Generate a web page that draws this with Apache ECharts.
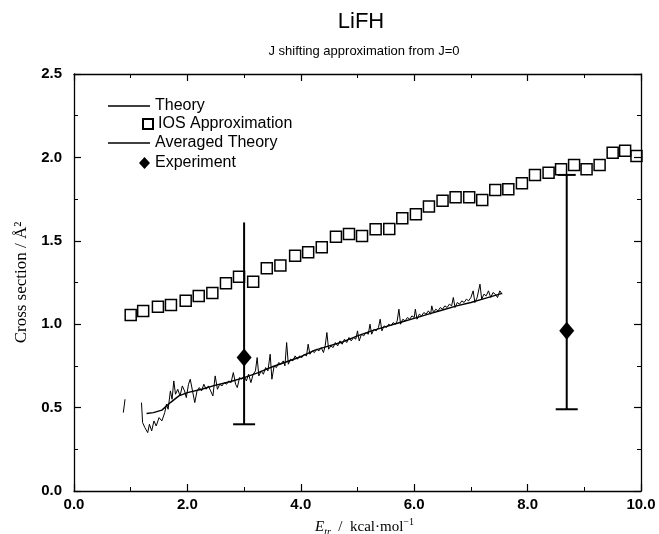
<!DOCTYPE html>
<html>
<head>
<meta charset="utf-8">
<script src="https://cdn.jsdelivr.net/npm/echarts@6/dist/echarts.min.js"></script>
<style>html,body{margin:0;padding:0;background:#fff}#c{width:659px;height:534px}</style>
</head>
<body>
<div id="c"></div>
<script>
// ---- data ----
const xTicks = [0, 2, 4, 6, 8, 10];
const yTicks = [0, 0.5, 1.0, 1.5, 2.0, 2.5];

const iosX = [1.00,1.22,1.48,1.71,1.97,2.20,2.44,2.68,2.91,3.16,3.40,3.64,3.90,4.13,4.37,4.62,4.85,5.08,5.32,5.56,5.79,6.03,6.26,6.50,6.73,6.97,7.20,7.43,7.66,7.90,8.13,8.37,8.59,8.82,9.04,9.27,9.50,9.72,9.92];
const iosY = [1.055,1.079,1.105,1.115,1.141,1.169,1.187,1.245,1.285,1.255,1.335,1.352,1.411,1.431,1.461,1.525,1.541,1.529,1.569,1.571,1.635,1.659,1.705,1.740,1.761,1.761,1.745,1.805,1.809,1.845,1.894,1.908,1.929,1.954,1.929,1.954,2.028,2.040,2.008];

const avgX = [1.28,1.40,1.55,1.70,1.85,2.00,2.25,2.50,2.75,3.00,3.25,3.50,3.75,4.00,4.25,4.50,4.75,5.00,5.25,5.50,5.75,6.00,6.25,6.50,6.75,7.00,7.25,7.55];
const avgY = [0.465,0.470,0.485,0.530,0.570,0.590,0.610,0.635,0.655,0.680,0.710,0.745,0.775,0.805,0.845,0.870,0.895,0.930,0.960,0.985,1.010,1.035,1.060,1.085,1.110,1.130,1.155,1.185];

const theoryX = [0.87,0.90,1.00,1.19,1.21,1.25,1.30,1.33,1.37,1.41,1.45,1.50,1.55,1.60,1.63,1.66,1.70,1.73,1.76,1.79,1.83,1.87,1.91,1.95,1.98,2.02,2.05,2.09,2.13,2.17,2.21,2.25,2.29,2.33,2.37,2.41,2.45,2.49,2.53,2.57,2.61,2.65,2.69,2.73,2.77,2.81,2.85,2.88,2.92,2.96,3.00,3.04,3.08,3.12,3.16,3.20,3.23,3.26,3.30,3.34,3.38,3.42,3.46,3.49,3.53,3.57,3.61,3.65,3.69,3.72,3.75,3.78,3.82,3.86,3.90,3.94,3.98,4.02,4.06,4.10,4.13,4.16,4.20,4.24,4.28,4.32,4.36,4.40,4.43,4.46,4.49,4.53,4.57,4.61,4.65,4.69,4.73,4.77,4.81,4.85,4.89,4.93,4.97,5.00,5.03,5.07,5.11,5.15,5.19,5.22,5.25,5.29,5.33,5.37,5.40,5.43,5.47,5.51,5.55,5.59,5.63,5.67,5.70,5.73,5.76,5.80,5.84,5.88,5.92,5.96,6.00,6.02,6.05,6.09,6.13,6.17,6.21,6.25,6.29,6.31,6.34,6.38,6.42,6.46,6.50,6.54,6.58,6.62,6.66,6.69,6.72,6.76,6.80,6.84,6.88,6.92,6.96,7.00,7.04,7.07,7.11,7.16,7.19,7.23,7.27,7.31,7.35,7.39,7.43,7.47,7.51,7.55];
const theoryY = [0.47,0.55,'-',0.53,0.41,0.38,0.35,0.40,0.36,0.42,0.39,0.44,0.42,0.47,0.52,0.49,0.60,0.55,0.66,0.58,0.61,0.57,0.63,0.60,0.56,0.64,0.67,0.60,0.53,0.60,0.62,0.60,0.64,0.61,0.63,0.60,0.57,0.69,0.61,0.64,0.63,0.65,0.64,0.66,0.65,0.71,0.64,0.62,0.68,0.67,0.69,0.66,0.70,0.65,0.70,0.72,0.80,0.69,0.72,0.70,0.74,0.72,0.82,0.67,0.75,0.74,0.77,0.76,0.78,0.75,0.89,0.76,0.79,0.78,0.81,0.79,0.81,0.80,0.82,0.81,0.88,0.82,0.84,0.83,0.85,0.84,0.86,0.83,0.87,0.95,0.85,0.87,0.86,0.89,0.87,0.90,0.88,0.91,0.89,0.92,0.90,0.92,0.91,0.96,0.90,0.94,0.93,0.95,0.94,1.00,0.94,0.97,0.96,0.98,1.03,0.96,0.99,0.98,1.00,0.99,1.01,1.00,1.02,1.09,1.00,1.03,1.02,1.04,1.03,1.05,1.04,1.09,1.03,1.06,1.05,1.07,1.06,1.08,1.06,1.11,1.07,1.09,1.08,1.10,1.09,1.11,1.10,1.12,1.11,1.16,1.10,1.13,1.12,1.14,1.13,1.15,1.14,1.16,1.20,1.13,1.16,1.24,1.15,1.18,1.17,1.20,1.16,1.19,1.18,1.16,1.20,1.18];

const expX = [3.00, 8.69];
const expY = [0.80, 0.96];
const expLow = [0.40, 0.49];
const expHigh = [1.61, 1.895];

// ---- build ----
const zip = (a, b) => a.map((v, i) => [v, b[i]]);
const SANS = 'Liberation Sans';
const SERIF = 'Liberation Serif';

const chart = echarts.init(document.getElementById('c'), null, {renderer: 'canvas'});

function axisCommon() {
  return {
    axisLine: {show: true, onZero: false, lineStyle: {color: '#000', width: 1.3}},
    axisTick: {show: true, inside: true, length: 7, lineStyle: {color: '#000', width: 1.2}},
    minorTick: {show: true, splitNumber: 2, length: 4, lineStyle: {color: '#000', width: 1}},
    splitLine: {show: false}
  };
}
const legendText = {fontFamily: SANS, fontSize: 16, color: '#000'};

const option = {
  backgroundColor: '#fff',
  animation: false,
  title: [
    {text: 'LiFH', left: 356, top: 6, textAlign: 'center',
     textStyle: {fontFamily: SANS, fontSize: 22, fontWeight: 'normal', color: '#000'}},
    {text: 'J shifting approximation from J=0', left: 359, top: 40, textAlign: 'center',
     textStyle: {fontFamily: SANS, fontSize: 13, fontWeight: 'normal', color: '#000'}}
  ],
  grid: {left: 74, right: 18, top: 74, bottom: 43, containLabel: false, outerBoundsMode: 'none'},
  legend: [
    {data: [{name: 'Theory', icon: 'rect'}], left: 103, top: 93, itemWidth: 42, itemHeight: 1.4,
     textStyle: legendText},
    {data: ['IOS Approximation'], left: 137, top: 111, itemWidth: 10, itemHeight: 10,
     textStyle: legendText},
    {data: [{name: 'Averaged Theory', icon: 'rect'}], left: 103, top: 130, itemWidth: 42, itemHeight: 1.4,
     textStyle: legendText},
    {data: ['Experiment'], left: 134, top: 150, itemWidth: 11, itemHeight: 12,
     textStyle: legendText}
  ],
  xAxis: [
    Object.assign({type: 'value', position: 'bottom', min: xTicks[0], max: xTicks[xTicks.length - 1], interval: 2,
      axisLabel: {show: true, margin: 6, fontFamily: SANS, fontSize: 15, fontWeight: 'bold', color: '#000',
        formatter: v => v.toFixed(1)},
      name: '{e|E}{sub|tr}{n|  /  kcal·mol}{sup|−1}', nameLocation: 'middle', nameGap: 20,
      nameTextStyle: {
        padding: [0, 0, 0, 14],
        rich: {
          e: {fontFamily: SERIF, fontStyle: 'italic', fontSize: 15, color: '#000', lineHeight: 20},
          sub: {fontFamily: SERIF, fontStyle: 'italic', fontSize: 10, color: '#000', lineHeight: 12, verticalAlign: 'bottom'},
          n: {fontFamily: SERIF, fontSize: 15, color: '#000', lineHeight: 20},
          sup: {fontFamily: SERIF, fontSize: 10, color: '#000', lineHeight: 12, verticalAlign: 'top'}
        }
      }
    }, axisCommon()),
    Object.assign({type: 'value', position: 'top', min: xTicks[0], max: xTicks[xTicks.length - 1], interval: 2,
      axisLabel: {show: false}}, axisCommon())
  ],
  yAxis: [
    Object.assign({type: 'value', position: 'left', min: yTicks[0], max: yTicks[yTicks.length - 1], interval: 0.5,
      axisLabel: {show: true, margin: 12, fontFamily: SANS, fontSize: 15, fontWeight: 'bold', color: '#000',
        formatter: v => v.toFixed(1)},
      name: 'Cross section / Å²', nameLocation: 'middle', nameGap: 43,
      nameTextStyle: {fontFamily: SERIF, fontSize: 17, color: '#000'}
    }, axisCommon()),
    Object.assign({type: 'value', position: 'right', min: yTicks[0], max: yTicks[yTicks.length - 1], interval: 0.5,
      axisLabel: {show: false}}, axisCommon())
  ],
  series: [
    {name: 'Theory', type: 'line', data: zip(theoryX, theoryY), symbol: 'none', connectNulls: false,
     lineStyle: {color: '#000', width: 1}, itemStyle: {color: '#000'}, z: 3},
    {name: 'IOS Approximation', type: 'scatter', data: zip(iosX, iosY), symbol: 'rect', symbolSize: 11,
     itemStyle: {color: 'rgba(0,0,0,0)', borderColor: '#000', borderWidth: 1.5, opacity: 1}, z: 4},
    {name: 'Averaged Theory', type: 'line', data: zip(avgX, avgY), symbol: 'none',
     lineStyle: {color: '#000', width: 1.4}, itemStyle: {color: '#000'}, z: 3},
    {name: 'errorbars', type: 'custom', data: expX.map((x, i) => [x, expLow[i], expHigh[i]]), z: 5,
     renderItem: function (params, api) {
       const x = api.value(0);
       const pLo = api.coord([x, api.value(1)]);
       const pHi = api.coord([x, api.value(2)]);
       const st = {stroke: '#000', lineWidth: 2};
       const children = [
         {type: 'line', shape: {x1: pLo[0], y1: pLo[1], x2: pHi[0], y2: pHi[1]}, style: st},
         {type: 'line', shape: {x1: pLo[0] - 11, y1: pLo[1], x2: pLo[0] + 11, y2: pLo[1]}, style: st}
       ];
       if (params.dataIndex === 1) {
         children.push({type: 'line', shape: {x1: pHi[0] - 9, y1: pHi[1], x2: pHi[0] + 9, y2: pHi[1]}, style: st});
       }
       return {type: 'group', children: children};
     }},
    {name: 'Experiment', type: 'scatter', data: zip(expX, expY), symbol: 'diamond', symbolSize: [15, 18],
     itemStyle: {color: '#000', opacity: 1}, z: 6}
  ]
};
chart.setOption(option);
</script>
</body>
</html>
